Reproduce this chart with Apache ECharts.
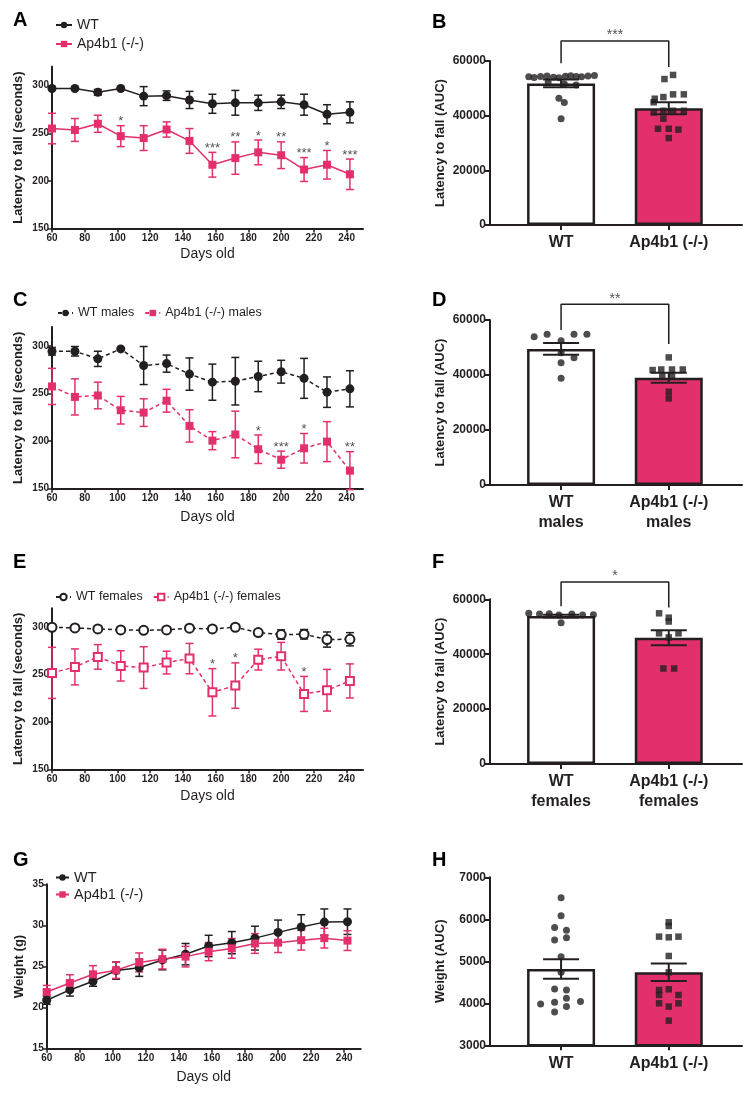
<!DOCTYPE html>
<html><head><meta charset="utf-8">
<script src="https://cdn.jsdelivr.net/npm/echarts@6/dist/echarts.min.js"></script>
<style>html,body{margin:0;padding:0;background:#fff}#c{width:750px;height:1093px}</style>
</head><body><div id="c"></div>
<script>
// ---------- data ----------
const days = [60,74,88,102,116,130,144,158,172,186,200,214,228,242];
const xTickDays = [60,80,100,120,140,160,180,200,220,240];
const latencyTicks = [150,200,250,300];
const aucTicks = [0,20000,40000,60000];
const weightTicks = [15,20,25,30,35];
const weightAucTicks = [3000,4000,5000,6000,7000];

// A: all mice
const aWtMean = [297,297,293,297,289,289.5,285,281,282,282,283,280,270,272];
const aWtErr  = [1,1,3,1,10,5,9,10,13,8,7,11,10,11];
const aKoMean = [255,253.5,260,247,245,254,242,217,224,230,227,212,217,207];
const aKoErr  = [16,12,9,11,13,8,13,13,17,13,14,12.5,15,16];
const aStars  = ['','','','*','','','','***','**','*','**','***','*','***'];

// C: males
const cWtMean = [294.5,294.5,286.5,297,279.5,281.5,270.5,262,263,268,273,266,251.5,255];
const cWtErr  = [4,5,8,1,20,9,17,19,25,16,12,21,16,19];
const cKoMean = [257.5,246.5,248,232.5,230,242.5,216,200.5,207,191.5,180.5,192.5,199.5,169];
const cKoErr  = [19,19,14,14.5,14.5,12,17,9.5,24.5,15,9,15.5,21,20];
const cStars  = ['','','','','','','','','','*','***','*','','**'];

// E: females
const eWtMean = [300,299.3,298.2,297.2,296.8,297.2,299,298.2,300,294.4,292.3,292.6,287,287.3];
const eWtErr  = [1,1.5,1,1,1,1,1,1,1,1.5,5,5,8,7];
const eKoMean = [251.8,258.1,268.7,259.2,257.4,262.7,266.9,231.3,238.4,265.8,269.4,229.6,233.5,243.3];
const eKoErr  = [27,19,13,16,22,12,16,25,24,11,14.6,18.5,22,18];
const eStars  = ['','','','','','','','*','*','','','*','',''];

// G: weight
const gWtMean = [20.9,22.15,23.2,24.5,24.85,25.8,26.5,27.5,27.9,28.45,29.15,29.8,30.4,30.45];
const gWtErr  = [0.5,0.75,0.6,1.05,1.05,1.2,1.3,1.3,1.35,1.45,1.5,1.5,1.6,1.55];
const gKoMean = [21.9,23.0,24.05,24.55,25.5,25.9,26.2,26.8,27.2,27.8,27.9,28.2,28.45,28.15];
const gKoErr  = [0.8,1.0,1.05,1.0,1.15,1.2,1.25,1.1,1.2,1.2,1.2,1.2,1.2,1.2];

// B
const bNames = ['WT','Ap4b1 (-/-)'];
const bMean = [51800,42700];
const bSem  = [1400,2200];
const bWtAuc = [54200,54000,54300,54500,54100,53900,54400,54600,54300,54200,54500,54700,52300,51700,51200,46400,44800,38900];
const bWtJit = [-0.30,-0.25,-0.19,-0.13,-0.07,-0.02,0.04,0.09,0.14,0.19,0.25,0.31,-0.12,0.03,0.14,-0.02,0.03,0.00];
const bKoAuc = [53400,54900,46200,46800,47800,47800,44900,41200,41800,41800,41800,38900,35200,35200,34900,31800];
const bKoJit = [-0.04,0.04,-0.13,-0.05,0.04,0.14,-0.14,-0.14,-0.05,0.04,0.14,-0.05,-0.10,0,0.09,0];
const bBracket = [59200,67300,57800]; const bSig = '***';

// D
const dNames = ['WT\nmales','Ap4b1 (-/-)\nmales'];
const dMean = [49500,39000];
const dSem  = [2100,1800];
const dWtAuc = [53900,54800,52500,54800,54800,48100,46300,44500,38800];
const dWtJit = [-0.25,-0.13,0,0.12,0.24,0,0.12,0,0];
const dKoAuc = [46400,41800,42000,42000,42000,39600,39600,33900,31500];
const dKoJit = [0,-0.15,-0.07,0.03,0.13,-0.06,0.03,0,0];
const dBracket = [56400,65700,51300]; const dSig = '**';

// F
const fNames = ['WT\nfemales','Ap4b1 (-/-)\nfemales'];
const fMean = [53900,46000];
const fSem  = [500,2700];
const fWtAuc = [54900,54600,54700,54300,54600,54300,54400,51500];
const fWtJit = [-0.30,-0.20,-0.11,-0.02,0.10,0.20,0.30,0];
const fKoAuc = [54900,53300,51900,47600,47600,46100,34800,34800];
const fKoJit = [-0.09,0,0,-0.09,0.09,0,-0.05,0.05];
const fBracket = [57500,66300,57000]; const fSig = '*';

// H
const hNames = ['WT','Ap4b1 (-/-)'];
const hMean = [4817,4738];
const hSem  = [230,210];
const hWtAuc = [6516,6087,5802,5738,5508,5563,5111,4738,4341,4317,3984,4024,4119,4040,3921,3794];
const hWtJit = [0,0,-0.06,0.05,-0.06,0.05,0,0,-0.06,0.05,-0.19,-0.06,0.05,0.18,0.05,-0.06];
const hKoAuc = [5929,5841,5587,5571,5587,5127,4738,4317,4333,4198,4198,4000,3921,4000,3587];
const hKoJit = [0,0,-0.09,0,0.09,0,0,-0.09,0,0.09,-0.09,-0.09,0,0.09,0];

// ---------- styles ----------
const FONT = '"Liberation Sans", Arial, Helvetica, sans-serif';
const DARK = '#231F20';
const PINK = '#E3306D';

const option = {
  backgroundColor:'#fff', animation:false,
  textStyle:{fontFamily:FONT},
  title:[], legend:[], grid:[], xAxis:[], yAxis:[], series:[]
};

function panelLetter(t, left, top){
  option.title.push({text:t, left:left, top:top, padding:0,
    textStyle:{fontSize:20, fontWeight:'bold', color:'#000', fontFamily:FONT}});
}

function axisLineStyle(){ return {show:true, onZero:false, lineStyle:{color:DARK, width:2}}; }

function errBarSeries(gi, xs, means, errs, color, cap, w){
  return {type:'custom', xAxisIndex:gi, yAxisIndex:gi, z:2, silent:true,
    data: xs.map((x,i)=>[x, means[i]-errs[i], means[i]+errs[i]]),
    encode:{x:0, y:[1,2]},
    renderItem:function(params, api){
      const x = api.value(0);
      const lo = api.coord([x, api.value(1)]);
      const hi = api.coord([x, api.value(2)]);
      const h = cap/2;
      const st = {stroke:color, lineWidth:w};
      return {type:'group', children:[
        {type:'line', shape:{x1:lo[0],y1:lo[1],x2:hi[0],y2:hi[1]}, style:st},
        {type:'line', shape:{x1:hi[0]-h,y1:hi[1],x2:hi[0]+h,y2:hi[1]}, style:st},
        {type:'line', shape:{x1:lo[0]-h,y1:lo[1],x2:lo[0]+h,y2:lo[1]}, style:st}
      ]};
    }
  };
}

function lineAxes(gi, grid, yMin, yMax, yTicks, yName, yGap, xGap){
  option.grid.push(Object.assign({outerBoundsMode:'none', containLabel:false}, grid));
  option.xAxis.push({type:'value', gridIndex:gi, min:60, max:250,
    name:'Days old', nameLocation:'middle', nameGap:xGap,
    nameTextStyle:{fontSize:14, color:DARK, fontFamily:FONT},
    axisLine:axisLineStyle(),
    axisTick:{show:true, customValues:xTickDays, length:4, lineStyle:{color:DARK, width:1.5}},
    axisLabel:{customValues:xTickDays, fontSize:10, fontWeight:'bold', color:DARK, margin:5, fontFamily:FONT},
    splitLine:{show:false}});
  option.yAxis.push({type:'value', gridIndex:gi, min:yMin, max:yMax,
    name:yName, nameLocation:'middle', nameGap:yGap, nameRotate:90,
    nameTextStyle:{fontSize:13, fontWeight:'bold', color:DARK, fontFamily:FONT},
    axisLine:axisLineStyle(),
    axisTick:{show:true, customValues:yTicks, length:4, lineStyle:{color:DARK, width:1.5}},
    axisLabel:{customValues:yTicks, fontSize:10, fontWeight:'bold', color:DARK, margin:3, fontFamily:FONT},
    splitLine:{show:false}});
}

function lineSeries(gi, name, means, color, symbol, size, dashed){
  const empty = symbol.indexOf('empty') === 0;
  return {type:'line', name:name, xAxisIndex:gi, yAxisIndex:gi, z:3,
    data: days.map((d,i)=>[d, means[i]]),
    symbol:symbol, symbolSize:size, showSymbol:true,
    lineStyle:{color:color, width:1.5, type: dashed ? [4,3] : 'solid'},
    itemStyle: empty ? {color:color, borderColor:color, borderWidth:2.2} : {color:color},
    emphasis:{disabled:true}};
}

function starSeries(gi, means, errs, stars){
  const data = [];
  days.forEach((d,i)=>{ if(stars[i]) data.push({value:[d, means[i]+errs[i]], label:{formatter:stars[i]}}); });
  return {type:'scatter', xAxisIndex:gi, yAxisIndex:gi, z:5, silent:true,
    symbolSize:1, itemStyle:{color:'rgba(0,0,0,0)'},
    label:{show:true, position:'top', distance:-3, fontSize:13, color:DARK, fontFamily:FONT},
    data:data};
}

function linePanel(gi, cfg){
  lineAxes(gi, cfg.grid, cfg.yMin, cfg.yMax, cfg.yTicks, cfg.yName, cfg.yGap, cfg.xGap);
  option.series.push(errBarSeries(gi, days, cfg.wtMean, cfg.wtErr, DARK, 8, 1.5));
  option.series.push(errBarSeries(gi, days, cfg.koMean, cfg.koErr, PINK, 8, 1.5));
  option.series.push(lineSeries(gi, cfg.names[0], cfg.wtMean, DARK, cfg.wtSym, 9, cfg.dashed));
  option.series.push(lineSeries(gi, cfg.names[1], cfg.koMean, PINK, cfg.koSym, 8, cfg.dashed));
  if (cfg.stars) option.series.push(starSeries(gi, cfg.koMean, cfg.koErr, cfg.stars));
  option.legend.push(Object.assign({
    data:cfg.names, selectedMode:false, padding:0, itemWidth:15, itemHeight:8,
    textStyle:{fontSize:cfg.legendFont, color:DARK, fontFamily:FONT, lineHeight:14}
  }, cfg.legend));
}

function barPanel(gi, cfg){
  option.grid.push(Object.assign({outerBoundsMode:'none', containLabel:false}, cfg.grid));
  option.xAxis.push({type:'value', gridIndex:gi, min:0.34, max:2.68,
    axisLine:axisLineStyle(),
    axisTick:{show:true, customValues:[1,2], length:5, lineStyle:{color:DARK, width:2}},
    axisLabel:{customValues:[1,2], formatter:(v)=>cfg.names[Math.round(v)-1],
      fontSize:16, fontWeight:'bold', color:DARK, margin:8, lineHeight:20, fontFamily:FONT},
    splitLine:{show:false}});
  option.yAxis.push({type:'value', gridIndex:gi, min:cfg.yMin, max:cfg.yMax, interval:cfg.yInt,
    name:cfg.yName, nameLocation:'middle', nameGap:cfg.yGap, nameRotate:90,
    nameTextStyle:{fontSize:13, fontWeight:'bold', color:DARK, fontFamily:FONT},
    axisLine:axisLineStyle(),
    axisTick:{show:true, length:5, lineStyle:{color:DARK, width:2}},
    axisLabel:{fontSize:12, fontWeight:'bold', color:DARK, margin:4, fontFamily:FONT,
      formatter:(v)=>String(v)},
    splitLine:{show:false}});
  option.series.push({type:'bar', xAxisIndex:gi, yAxisIndex:gi, barWidth:68, z:2, silent:true,
    data:[{value:[1,cfg.mean[0]], itemStyle:{color:'#fff'}}, {value:[2,cfg.mean[1]], itemStyle:{color:PINK}}],
    itemStyle:{borderColor:DARK, borderWidth:2.5}});
  option.series.push({type:'scatter', xAxisIndex:gi, yAxisIndex:gi, z:3, silent:true,
    symbol:'circle', symbolSize:7, itemStyle:{color:DARK},
    data: cfg.wtPts.map((v,i)=>[1+cfg.wtJit[i], v])});
  option.series.push({type:'scatter', xAxisIndex:gi, yAxisIndex:gi, z:3, silent:true,
    symbol:'rect', symbolSize:6.5, itemStyle:{color:DARK},
    data: cfg.koPts.map((v,i)=>[2+cfg.koJit[i], v])});
  const eb = errBarSeries(gi, [1,2], cfg.mean, cfg.sem, DARK, 36, 2);
  eb.z = 4;
  option.series.push(eb);
  if (cfg.bracket){
    const b = cfg.bracket;
    option.series.push({type:'line', xAxisIndex:gi, yAxisIndex:gi, clip:false, silent:true, z:4,
      symbol:'none', lineStyle:{color:DARK, width:1.5},
      data:[[1,b[0]],[1,b[1]],[2,b[1]],[2,b[2]]]});
    option.series.push({type:'scatter', xAxisIndex:gi, yAxisIndex:gi, clip:false, silent:true, z:5,
      symbolSize:1, itemStyle:{color:'rgba(0,0,0,0)'},
      label:{show:true, position:'top', distance:-2, fontSize:14, color:DARK, formatter:cfg.sig, fontFamily:FONT},
      data:[[1.5,b[1]]]});
  }
}

// ---------- panels ----------
linePanel(0, {grid:{left:52, top:66.6, width:311, height:162},
  yMin:150, yMax:320, yTicks:latencyTicks, yName:'Latency to fall (seconds)', yGap:27, xGap:19,
  wtMean:aWtMean, wtErr:aWtErr, koMean:aKoMean, koErr:aKoErr, stars:aStars,
  names:['WT','Ap4b1 (-/-)'], wtSym:'circle', koSym:'rect', dashed:false, legendFont:14,
  legend:{left:55, top:18, orient:'vertical', itemGap:5, itemWidth:16}});
barPanel(1, {grid:{left:490, top:61, width:252, height:164},
  yMin:0, yMax:60000, yInt:20000, yName:'Latency to fall (AUC)', yGap:43, names:bNames,
  mean:bMean, sem:bSem, wtPts:bWtAuc, wtJit:bWtJit, koPts:bKoAuc, koJit:bKoJit, bracket:bBracket, sig:bSig});
linePanel(2, {grid:{left:52, top:327, width:311, height:161.7},
  yMin:150, yMax:320, yTicks:latencyTicks, yName:'Latency to fall (seconds)', yGap:27, xGap:21,
  wtMean:cWtMean, wtErr:cWtErr, koMean:cKoMean, koErr:cKoErr, stars:cStars,
  names:['WT males','Ap4b1 (-/-) males'], wtSym:'circle', koSym:'rect', dashed:true, legendFont:12.5,
  legend:{left:57, top:306, orient:'horizontal', itemGap:10}});
barPanel(3, {grid:{left:490, top:320, width:252, height:165},
  yMin:0, yMax:60000, yInt:20000, yName:'Latency to fall (AUC)', yGap:43, names:dNames,
  mean:dMean, sem:dSem, wtPts:dWtAuc, wtJit:dWtJit, koPts:dKoAuc, koJit:dKoJit, bracket:dBracket, sig:dSig});
linePanel(4, {grid:{left:52, top:608.3, width:311, height:161},
  yMin:150, yMax:320, yTicks:latencyTicks, yName:'Latency to fall (seconds)', yGap:27, xGap:20,
  wtMean:eWtMean, wtErr:eWtErr, koMean:eKoMean, koErr:eKoErr, stars:eStars,
  names:['WT females','Ap4b1 (-/-) females'], wtSym:'emptyCircle', koSym:'emptyRect', dashed:true, legendFont:12.5,
  legend:{left:55, top:590, orient:'horizontal', itemGap:10}});
barPanel(5, {grid:{left:490, top:599.3, width:252, height:164.7},
  yMin:0, yMax:60000, yInt:20000, yName:'Latency to fall (AUC)', yGap:43, names:fNames,
  mean:fMean, sem:fSem, wtPts:fWtAuc, wtJit:fWtJit, koPts:fKoAuc, koJit:fKoJit, bracket:fBracket, sig:fSig});
linePanel(6, {grid:{left:46.7, top:884.3, width:314, height:164.4},
  yMin:15, yMax:35, yTicks:weightTicks, yName:'Weight (g)', yGap:21, xGap:21,
  wtMean:gWtMean, wtErr:gWtErr, koMean:gKoMean, koErr:gKoErr, stars:null,
  names:['WT','Ap4b1 (-/-)'], wtSym:'circle', koSym:'rect', dashed:false, legendFont:14.5,
  legend:{left:55, top:870, orient:'vertical', itemGap:2, itemWidth:13}});
barPanel(7, {grid:{left:490, top:877.3, width:252, height:168},
  yMin:3000, yMax:7000, yInt:1000, yName:'Weight (AUC)', yGap:43, names:hNames,
  mean:hMean, sem:hSem, wtPts:hWtAuc, wtJit:hWtJit, koPts:hKoAuc, koJit:hKoJit, bracket:null});

panelLetter('A', 13, 10);
panelLetter('B', 432, 12);
panelLetter('C', 13, 290);
panelLetter('D', 432, 290);
panelLetter('E', 13, 552);
panelLetter('F', 432, 552);
panelLetter('G', 13, 850);
panelLetter('H', 432, 850);

const chart = echarts.init(document.getElementById('c'), null, {renderer:'canvas'});
chart.setOption(option);
</script>
</body></html>
